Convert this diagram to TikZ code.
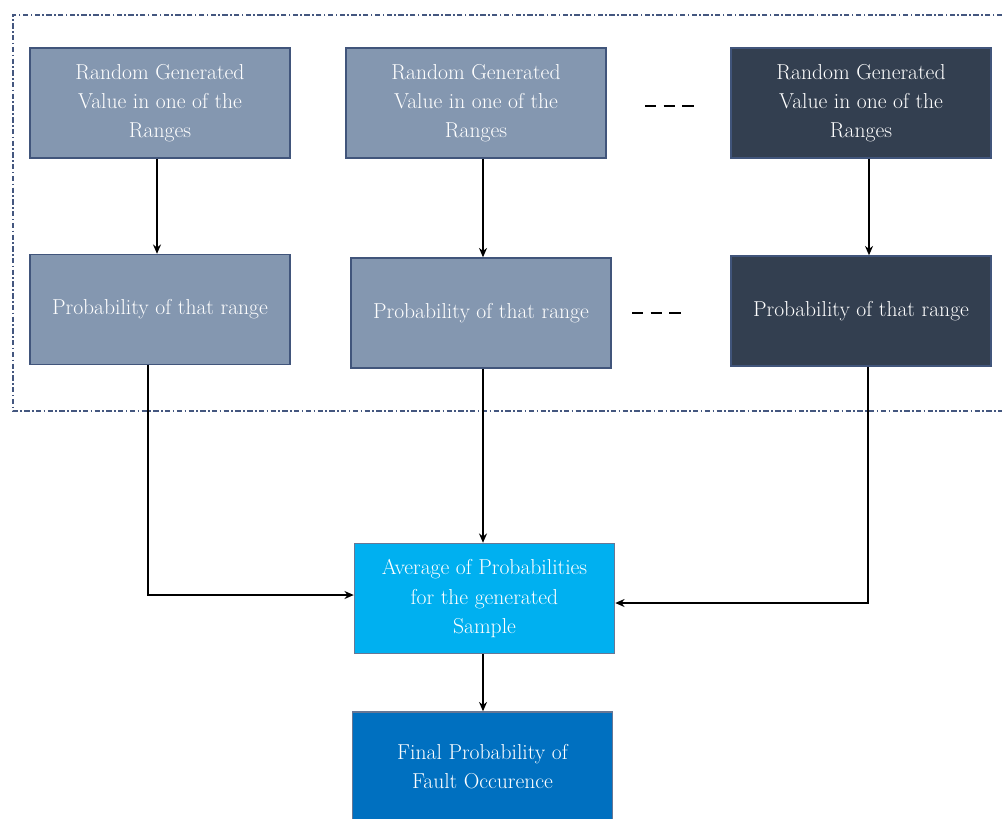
\documentclass[tikz,border=0pt]{standalone}
\usetikzlibrary{arrows.meta}
\definecolor{rangefill}{HTML}{8497B0}
\definecolor{rangedark}{HTML}{333F50}
\definecolor{boxedge}{HTML}{41557B}
\definecolor{avgfill}{HTML}{00B0F0}
\definecolor{finalfill}{HTML}{0070C0}
\definecolor{frameblue}{HTML}{44577F}
\tikzset{
  block/.style={draw=boxedge, line width=1.1pt, minimum width=195pt, minimum height=82.5pt,
    inner sep=0pt, align=center, text=white, font=\fontsize{16.2}{21.8}\selectfont},
  light/.style={block, fill=rangefill},
  dark/.style={block, fill=rangedark},
  flow/.style={-{Stealth[length=7pt,width=6pt]}, line width=1.1pt, black},
  ellipsis/.style={dash pattern=on 8.5pt off 5.5pt, line width=1.2pt, black},
  frame/.style={draw=frameblue, line width=1.4pt, dash pattern=on 4pt off 1.8pt on 1.2pt off 1.8pt}
}
\begin{document}
\begin{tikzpicture}[x=0.75pt,y=-0.75pt]
\useasboundingbox (0,0) rectangle (1002,818);
\clip (0,0) rectangle (1002,818);

% dash-dotted frame around the sampling stage
\draw[frame] (1002,15) -- (13,15) -- (13,411) -- (1002,411);

% random values
\node[light] (r1) at (160,103) {Random Generated\\Value in one of the\\Ranges};
\node[light] (r2) at (476,103) {Random Generated\\Value in one of the\\Ranges};
\node[dark]  (r3) at (861,103) {Random Generated\\Value in one of the\\Ranges};

% probabilities of the ranges
\node[light] (p1) at (160,309.5) {Probability of that range};
\node[light] (p2) at (481,313) {Probability of that range};
\node[dark]  (p3) at (861,311) {Probability of that range};

% continuation marks
\coordinate (e1a) at (645,106); \coordinate (e1b) at (694,106);
\coordinate (e2a) at (632,313); \coordinate (e2b) at (681,313);
\draw[ellipsis] (e1a) -- (e1b);
\draw[ellipsis] (e2a) -- (e2b);

% averaging and final result
\node[block, fill=avgfill, draw=boxedge!80] (avg) at (484.5,598.5) {Average of Probabilities\\for the generated\\Sample};
\node[block, fill=finalfill, draw=boxedge!80] (fin) at (482.5,767) {Final Probability of\\Fault Occurence};

% connectors
\draw[flow] (r1.south -| 157,0) -- (p1.north -| 157,0);
\draw[flow] (r2.south -| 483,0) -- (p2.north -| 483,0);
\draw[flow] (r3.south -| 869,0) -- (p3.north -| 869,0);
\draw[flow] (p1.south -| 148,0) |- (avg.west |- 0,595);
\draw[flow] (p2.south -| 483,0) -- (avg.north -| 483,0);
\draw[flow] (p3.south -| 868,0) |- (avg.east |- 0,603);
\draw[flow] (avg.south -| 483,0) -- (fin.north -| 483,0);
\end{tikzpicture}
\end{document}
